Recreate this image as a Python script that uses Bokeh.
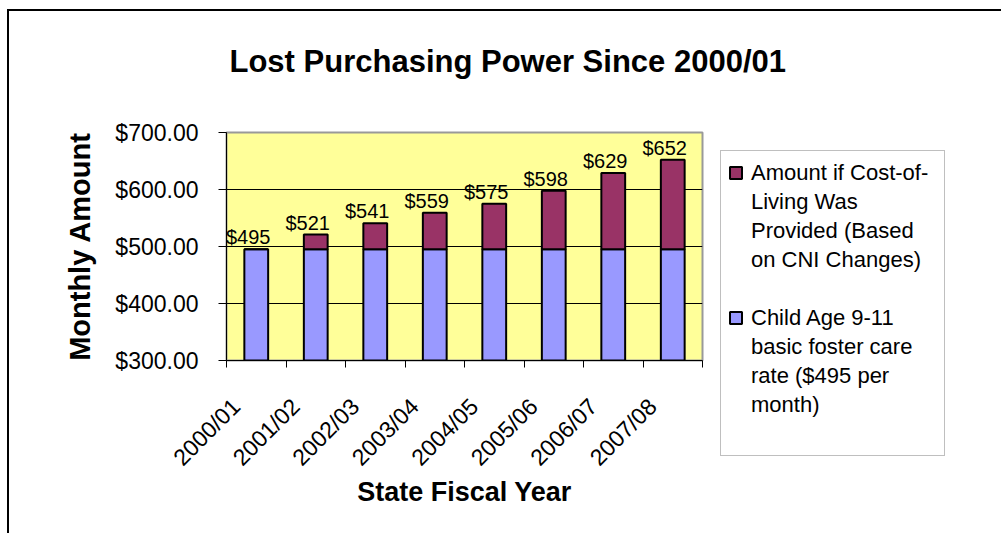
from bokeh.plotting import figure
from bokeh.models import (ColumnDataSource, FixedTicker, NumeralTickFormatter,
                          Legend, LegendItem, Range1d, LabelSet, Title)
from bokeh.core.properties import value
from bokeh.embed import file_html
from bokeh.resources import INLINE

# ---- data ----
years = ["2000/01", "2001/02", "2002/03", "2003/04",
         "2004/05", "2005/06", "2006/07", "2007/08"]
base_rate = [495, 495, 495, 495, 495, 495, 495, 495]
col_totals = [495, 521, 541, 559, 575, 598, 629, 652]
y_ticks = [300, 400, 500, 600, 700]
cola_lines = ["Amount if Cost-of-", "Living Was", "Provided (Based", "on CNI Changes)"]
base_lines = ["Child Age 9-11", "basic foster care", "rate ($495 per", "month)"]
chart_title = "Lost Purchasing Power Since 2000/01"

FONT = "Liberation Sans"
BLUE = "#9999FF"
MAROON = "#993366"
LABEL_SHIFT = 0.34   # rotated category labels end a little left of the bar centre

x = [i + 0.5 for i in range(len(years))]
label_pos = [xi - LABEL_SHIFT for xi in x]
extra = [t - b for t, b in zip(col_totals, base_rate)]
labels = ["$%d" % t for t in col_totals]

src = ColumnDataSource(dict(x=x, base=base_rate, extra=extra,
                            total=col_totals, label=labels))

p = figure(frame_width=476, frame_height=228, title=None,
           x_range=Range1d(0, len(years)), y_range=Range1d(y_ticks[0], y_ticks[-1]),
           output_backend="svg", toolbar_location=None,
           min_border_left=217, min_border_right=297,
           min_border_top=121, min_border_bottom=173,
           background_fill_color="#FFFF99", border_fill_color="white",
           outline_line_color="#999999", outline_line_width=2,
           styles={"margin-left": "7px", "margin-top": "9px",
                   "border-left": "2px solid black", "border-top": "2px solid black"})

rs = p.vbar_stack(["base", "extra"], x="x", width=0.4, source=src,
                  fill_color=[BLUE, MAROON], line_color="black", line_width=2)

p.add_layout(LabelSet(x="x", y="total", text="label", source=src,
                      text_font=value(FONT), text_font_size="20px", text_color="black",
                      text_align="center", text_baseline="alphabetic",
                      x_offset=-8, y_offset=5))

# title (a blank spacer title sits between the chart title and the plot area)
p.add_layout(Title(text=" ", text_font_size="46px", standoff=0), "above")
p.add_layout(Title(text=chart_title, text_font=FONT, text_font_size="31px",
                   text_font_style="bold", text_color="black",
                   align="left", offset=3, standoff=0), "above")

# x axis
xa = p.xaxis[0]
xa.ticker = FixedTicker(ticks=label_pos, minor_ticks=list(range(len(years) + 1)))
xa.major_label_overrides = {lp: yr for lp, yr in zip(label_pos, years)}
xa.major_label_orientation = 0.785398
xa.major_tick_out = 0
xa.major_tick_in = 0
xa.minor_tick_out = 7
xa.minor_tick_in = 0
xa.minor_tick_line_color = "black"
xa.major_label_standoff = 35
xa.axis_label = "State Fiscal Year"
xa.axis_label_standoff = -6
xa.axis_label_text_font_size = "27px"

# y axis
ya = p.yaxis[0]
ya.ticker = FixedTicker(ticks=y_ticks)
ya.formatter = NumeralTickFormatter(format="$0.00")
ya.major_tick_out = 8
ya.major_tick_in = 0
ya.major_label_standoff = 20
ya.axis_label = "Monthly Amount"
ya.axis_label_standoff = 16
ya.axis_label_text_font_size = "29px"

for ax in (xa, ya):
    ax.axis_line_color = "black"
    ax.major_tick_line_color = "black"
    ax.major_label_text_font = FONT
    ax.major_label_text_font_size = "23px"
    ax.major_label_text_color = "black"
    ax.axis_label_text_font = FONT
    ax.axis_label_text_font_style = "bold"
    ax.axis_label_text_color = "black"

p.xgrid.visible = False
p.ygrid.ticker = FixedTicker(ticks=y_ticks)
p.ygrid.grid_line_color = "black"
p.ygrid.grid_line_width = 1

# legend: one row per text line, swatch on the first line of each entry
items = [LegendItem(label=cola_lines[0], renderers=[rs[1]])]
items += [LegendItem(label=t, renderers=[]) for t in cola_lines[1:]]
items += [LegendItem(label=" ", renderers=[])]
items += [LegendItem(label=base_lines[0], renderers=[rs[0]])]
items += [LegendItem(label=t, renderers=[]) for t in base_lines[1:]]
items += [LegendItem(label=" ", renderers=[])]

legend = Legend(items=items, location="top_left",
                border_line_color="#808080", border_line_width=1.5,
                background_fill_color="white", background_fill_alpha=1,
                padding=7, spacing=0, label_standoff=8,
                glyph_width=15, glyph_height=15, label_height=29,
                label_text_font=FONT, label_text_font_size="22px",
                label_text_color="black", label_width=186, margin=18)
p.add_layout(legend, "right")

open("out.html", "w").write(file_html(p, INLINE))
